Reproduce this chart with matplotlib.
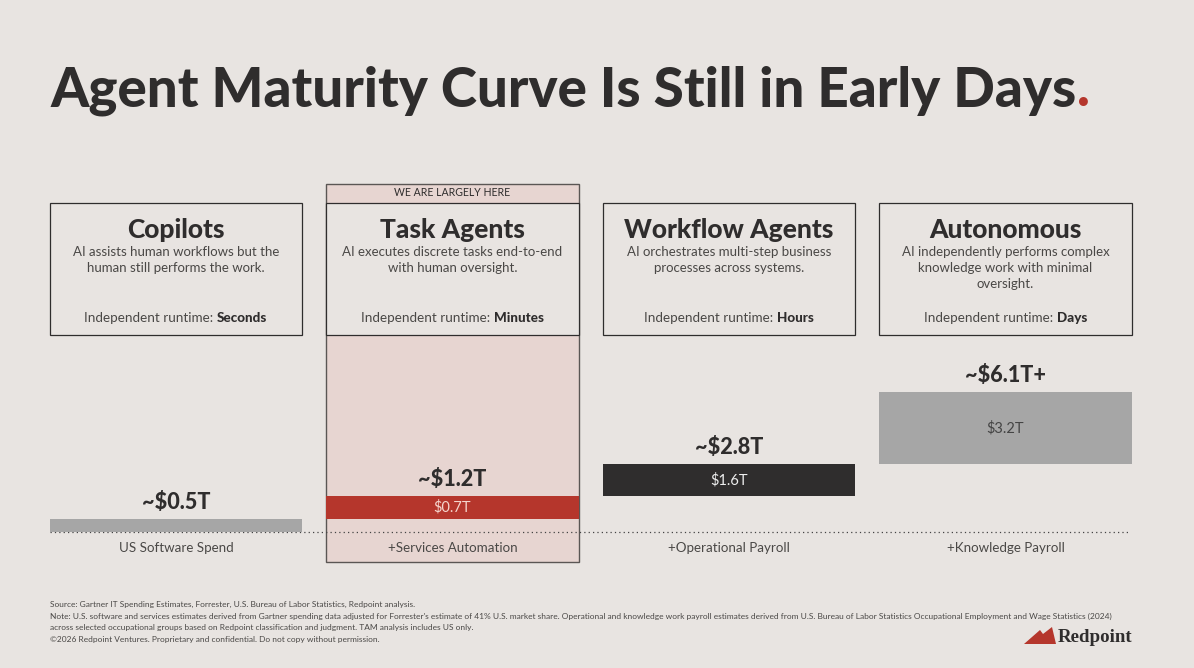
import matplotlib
matplotlib.use("Agg")
import matplotlib.pyplot as plt
from matplotlib.patches import Rectangle, Polygon

# values
stages = ["Copilots", "Task Agents", "Workflow Agents", "Autonomous"]
descriptions = [
    "AI assists human workflows but the\nhuman still performs the work.",
    "AI executes discrete tasks end-to-end\nwith human oversight.",
    "AI orchestrates multi-step business\nprocesses across systems.",
    "AI independently performs complex\nknowledge work with minimal\noversight.",
]
runtimes = ["Seconds", "Minutes", "Hours", "Days"]
totals = ["~$0.5T", "~$1.2T", "~$2.8T", "~$6.1T+"]
segment_labels = ["", "$0.7T", "$1.6T", "$3.2T"]
categories = ["US Software Spend", "+Services Automation", "+Operational Payroll", "+Knowledge Payroll"]
# drawn bar sizes, the slide is not to scale with its labels
bar_bottoms = [0.0, 0.58, 1.6, 3.02]
bar_heights = [0.58, 1.02, 1.42, 3.2]
bar_colors = ["#a6a6a6", "#b5362c", "#2f2d2d", "#a6a6a6"]
label_colors = ["#333333", "#f5d5cd", "#eeeeee", "#444444"]

BG = "#e8e4e1"
PINK = "#e7d5d1"
DARK = "#2f2d2d"
TEXT = "#4a4846"
RED = "#b5362c"

plt.rcParams["font.family"] = ["Lato", "DejaVu Sans"]

fig = plt.figure(figsize=(11.94, 6.68), dpi=100, facecolor=BG)
# whole figure in pixels, for the cards and text
page = fig.add_axes([0, 0, 1, 1])
page.set_xlim(0, 1194)
page.set_ylim(668, 0)
page.axis("off")

centers = [176, 452.5, 729, 1005.5]
box_w = 252.5

# highlighted column behind Task Agents
page.add_patch(Rectangle((326.25, 184), box_w, 378, fc=PINK, ec="#5a5654", lw=1.0, zorder=1))
page.add_patch(Rectangle((326.25, 202.5), box_w, 132, fc=BG, ec=DARK, lw=0.9, zorder=2))
page.text(centers[1], 192.5, "WE ARE LARGELY HERE", ha="center", va="center", fontsize=7.6, color=DARK, zorder=3)

renderer = fig.canvas.get_renderer()
for i, c in enumerate(centers):
    if i != 1:
        page.add_patch(Rectangle((c - box_w / 2, 202.5), box_w, 132, fc="none", ec=DARK, lw=0.9, zorder=2))
    page.text(c, 229.5, stages[i], ha="center", va="center", fontsize=19, fontweight="black", color=DARK, zorder=3)
    page.text(c, 246.5, descriptions[i], ha="center", va="top", fontsize=9.5, color=TEXT, linespacing=1.36, zorder=3)
    # runtime line has a bold end, placed next to the regular part and centred together
    t1 = page.text(0, 318.5, "Independent runtime:\u00a0", ha="left", va="center", fontsize=9.7, color=TEXT, zorder=3)
    t2 = page.text(0, 318.5, runtimes[i], ha="left", va="center", fontsize=9.7, fontweight="black", color=DARK, zorder=3)
    w1 = t1.get_window_extent(renderer).width
    w2 = t2.get_window_extent(renderer).width
    t1.set_x(c - (w1 + w2) / 2)
    t2.set_x(c - (w1 + w2) / 2 + w1)
    page.text(c, 547.5, categories[i], ha="center", va="center", fontsize=9.6, color=TEXT, zorder=3)

# bars on their own axes, baseline at y=532 px
x0 = centers[0] - 138.25
ax = fig.add_axes([x0 / 1194, (668 - 532) / 668, 4 * 276.5 / 1194, 200 / 668])
ax.patch.set_alpha(0)
ax.set_xlim(-0.5, 3.5)
ax.set_ylim(0, 200 / 22.5)
ax.axis("off")
positions = list(range(len(stages)))
ax.bar(positions, bar_heights, bottom=bar_bottoms, width=box_w / 276.5, color=bar_colors, zorder=3)
for i in positions:
    top = bar_bottoms[i] + bar_heights[i]
    ax.annotate(totals[i], (i, top), xytext=(0, 4), textcoords="offset points", ha="center", va="bottom",
                fontsize=15.6, fontweight="black", color=DARK, zorder=4)
    if segment_labels[i]:
        ax.text(i, bar_bottoms[i] + bar_heights[i] / 2, segment_labels[i], ha="center", va="center",
                fontsize=10.5, color=label_colors[i], zorder=4)

# dotted baseline
page.plot([50, 1130], [532, 532], color="#444444", lw=0.9, ls=(0, (1, 2.5)), zorder=2)

# title with the red full stop
title = page.text(50, 106.5, "Agent Maturity Curve Is Still in Early Days", ha="left", va="baseline",
                  fontsize=39.4, fontweight="black", color=DARK)
bb = title.get_window_extent(renderer)
page.text(bb.x1 + 1, 106.5, ".", ha="left", va="baseline", fontsize=39.4, fontweight="black", color=RED)

# footnotes
notes = [
    "Source: Gartner IT Spending Estimates, Forrester, U.S. Bureau of Labor Statistics, Redpoint analysis.",
    "Note: U.S. software and services estimates derived from Gartner spending data adjusted for Forrester's estimate of 41% U.S. market share. Operational and knowledge work payroll estimates derived from U.S. Bureau of Labor Statistics Occupational Employment and Wage Statistics (2024)",
    "across selected occupational groups based on Redpoint classification and judgment. TAM analysis includes US only.",
    "\u00a92026 Redpoint Ventures. Proprietary and confidential. Do not copy without permission.",
]
for y, line in zip([604.5, 616.5, 627.5, 639.5], notes):
    page.text(50, y, line, ha="left", va="center", fontsize=6.04, color=TEXT)

# logo
page.add_patch(Polygon([(1024, 644), (1040, 630), (1043, 634), (1052, 627), (1056, 644)], fc=RED, ec="none"))
page.text(1058, 637.5, "Redpoint", ha="left", va="center", fontsize=13.6, family=["Liberation Serif"],
          fontweight="bold", color=DARK)

fig.savefig("out.png", dpi=100, facecolor=BG)
